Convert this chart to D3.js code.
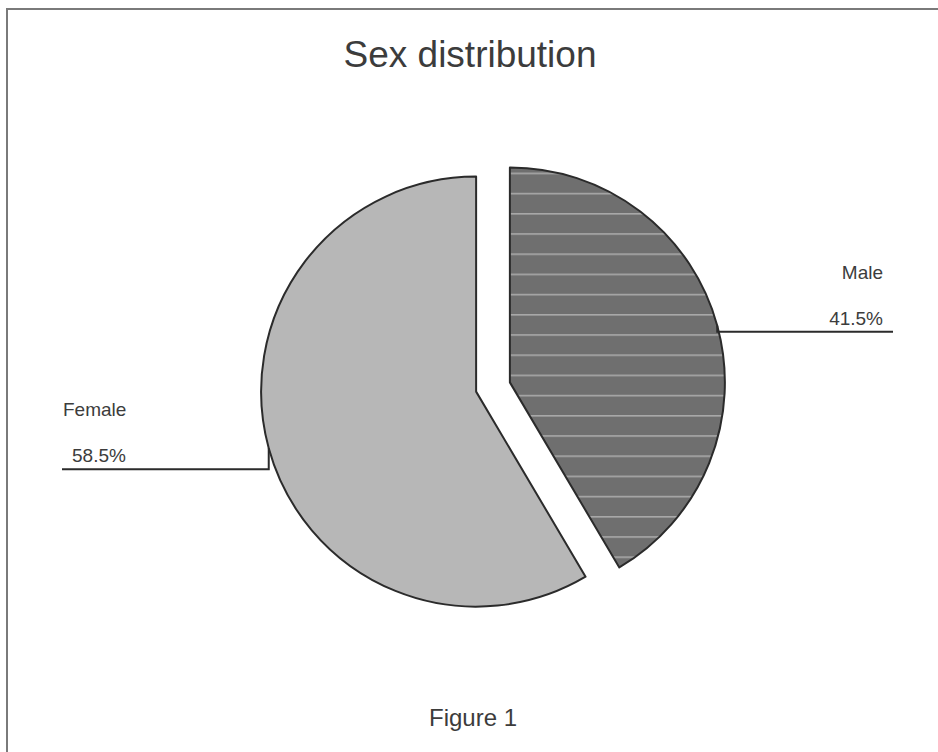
<!DOCTYPE html>
<html>
<head>
<meta charset="utf-8">
<script src="https://cdn.jsdelivr.net/npm/d3@7"></script>
<style>
  body { margin: 0; background: #fff; }
  text { font-family: "Liberation Sans", Arial, sans-serif; fill: #3c3c3c; }
</style>
</head>
<body>
<div id="chart"></div>
<script>
// data
var categories = ["Male", "Female"];
var percents = [41.5, 58.5];
var pctLabels = ["41.5%", "58.5%"];

var width = 938, height = 752;
var cx = 493, cy = 387, radius = 215, explode = 17.5;

var svg = d3.select("#chart").append("svg")
    .attr("width", width)
    .attr("height", height);

// frame of the scanned page
svg.append("rect")
    .attr("x", 7).attr("y", 9)
    .attr("width", 960).attr("height", 780)
    .attr("fill", "#fff")
    .attr("stroke", "#7a7a7a")
    .attr("stroke-width", 2);

// horizontal stripes for the male slice
var defs = svg.append("defs");
var pat = defs.append("pattern")
    .attr("id", "stripes")
    .attr("patternUnits", "userSpaceOnUse")
    .attr("x", 0).attr("y", 174)
    .attr("width", 20).attr("height", 20.2);
pat.append("rect")
    .attr("width", 20).attr("height", 20.2)
    .attr("fill", "#6f6f6f");
pat.append("rect")
    .attr("y", 0).attr("width", 20).attr("height", 1.6)
    .attr("fill", "#a9a9a9");

var fills = ["url(#stripes)", "#b7b7b7"];

// title
svg.append("text")
    .attr("x", 470).attr("y", 67)
    .attr("text-anchor", "middle")
    .style("font-size", "37px")
    .text("Sex distribution");

svg.append("text")
    .attr("x", 473).attr("y", 726)
    .attr("text-anchor", "middle")
    .style("font-size", "24px")
    .text("Figure 1");

var pie = d3.pie().sort(null).value(function(d) { return d; });
var arcs = pie(percents);
var arc = d3.arc().innerRadius(0).outerRadius(radius);

var g = svg.append("g")
    .attr("transform", "translate(" + cx + "," + cy + ")");

function offset(d) {
  var a = (d.startAngle + d.endAngle) / 2;
  return [explode * Math.sin(a), -explode * Math.cos(a)];
}

g.selectAll(".slice")
    .data(arcs)
  .enter().append("path")
    .attr("class", "slice")
    .attr("transform", function(d) { var o = offset(d); return "translate(" + o[0] + "," + o[1] + ")"; })
    .attr("d", arc)
    .attr("fill", function(d, i) { return fills[i]; })
    .attr("stroke", "#2b2b2b")
    .attr("stroke-width", 2)
    .attr("stroke-linejoin", "round");

// leader lines and labels
var drops = [6, 21];
var lineEnds = [893 - cx, 62 - cx];

arcs.forEach(function(d, i) {
  var a = (d.startAngle + d.endAngle) / 2;
  var o = offset(d);
  var px = o[0] + radius * Math.sin(a),
      py = o[1] - radius * Math.cos(a);
  var ly = py + drops[i];
  g.append("path")
      .attr("d", "M" + px + "," + py + "L" + px + "," + ly + "L" + lineEnds[i] + "," + ly)
      .attr("fill", "none")
      .attr("stroke", "#2b2b2b")
      .attr("stroke-width", 2);

  var right = i === 0;
  g.append("text")
      .attr("x", right ? 883 - cx : 63 - cx)
      .attr("y", ly - 53)
      .attr("text-anchor", right ? "end" : "start")
      .style("font-size", "19px")
      .text(categories[i]);
  g.append("text")
      .attr("x", right ? 883 - cx : 72 - cx)
      .attr("y", ly - 7)
      .attr("text-anchor", right ? "end" : "start")
      .style("font-size", "19px")
      .text(pctLabels[i]);
});
</script>
</body>
</html>
